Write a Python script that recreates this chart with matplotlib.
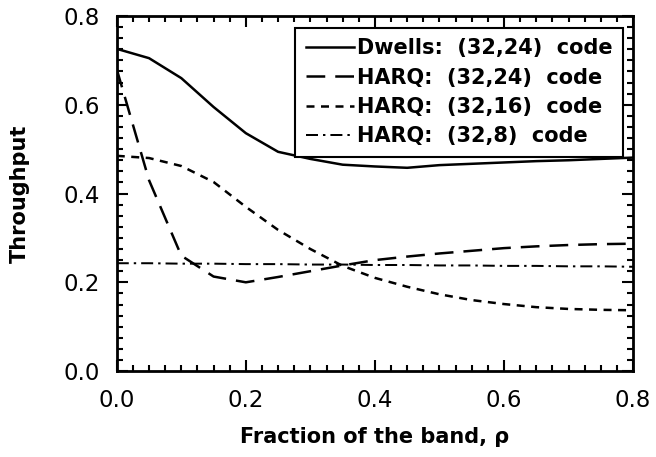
import numpy as np
import matplotlib
matplotlib.use("Agg")
import matplotlib.pyplot as plt
from matplotlib.ticker import MultipleLocator, FormatStrFormatter

plt.rcParams['font.family'] = ['DejaVu Sans']

rho = [0.0, 0.05, 0.1, 0.15, 0.2, 0.25, 0.3, 0.35, 0.4, 0.45, 0.5, 0.55, 0.6, 0.65, 0.7, 0.75, 0.8]

dwells_24 = [0.726, 0.705, 0.66, 0.595, 0.536, 0.494, 0.478, 0.465, 0.461, 0.458, 0.464, 0.467, 0.47, 0.473, 0.475, 0.478, 0.481]
harq_24 = [0.68, 0.43, 0.26, 0.213, 0.2, 0.212, 0.225, 0.238, 0.25, 0.258, 0.265, 0.271, 0.277, 0.281, 0.284, 0.286, 0.287]
harq_16 = [0.485, 0.48, 0.462, 0.426, 0.37, 0.318, 0.275, 0.237, 0.21, 0.19, 0.173, 0.16, 0.151, 0.144, 0.14, 0.138, 0.137]
harq_8 = [0.243, 0.243, 0.242, 0.242, 0.241, 0.241, 0.24, 0.24, 0.239, 0.239, 0.238, 0.238, 0.237, 0.237, 0.236, 0.236, 0.235]

labels = ["Dwells:  (32,24)  code", "HARQ:  (32,24)  code",
          "HARQ:  (32,16)  code", "HARQ:  (32,8)  code"]

fig = plt.figure(figsize=(6.56, 4.57), dpi=100)
ax = fig.add_axes([0.178, 0.188, 0.787, 0.777])

lw = 1.8
ax.plot(rho, dwells_24, color='black', lw=lw, label=labels[0])
ax.plot(rho, harq_24, color='black', lw=lw, dashes=(7.5, 4), label=labels[1])
ax.plot(rho, harq_16, color='black', lw=lw, dashes=(3.2, 2.6), label=labels[2])
ax.plot(rho, harq_8, color='black', lw=lw * 0.8, dashes=(6, 2.5, 1.2, 2.5), label=labels[3])

ax.set_xlim(0, 0.8)
ax.set_ylim(0, 0.8)
ax.xaxis.set_major_locator(MultipleLocator(0.2))
ax.xaxis.set_minor_locator(MultipleLocator(0.025))
ax.yaxis.set_major_locator(MultipleLocator(0.2))
ax.yaxis.set_minor_locator(MultipleLocator(0.025))
ax.xaxis.set_major_formatter(FormatStrFormatter('%.1f'))
ax.yaxis.set_major_formatter(FormatStrFormatter('%.1f'))

ax.tick_params(which='both', direction='in', top=True, right=True, width=1.5)
ax.tick_params(which='major', length=8, labelsize=16.5, pad=13)
ax.tick_params(which='minor', length=4)
ax.tick_params(axis='y', which='major', pad=12)
for s in ax.spines.values():
    s.set_linewidth(2)

ax.set_xlabel("Fraction of the band, ρ", fontsize=15, fontweight='bold', labelpad=11)
ax.set_ylabel("Throughput", fontsize=15, fontweight='bold', labelpad=24)

leg = ax.legend(loc='upper right', bbox_to_anchor=(0.98, 0.967),
                prop={'size': 15, 'weight': 'bold'},
                handlelength=2.3, handletextpad=0.15, borderpad=0.5,
                labelspacing=0.45, fancybox=False, framealpha=1, borderaxespad=0)
leg.get_frame().set_edgecolor('black')
leg.get_frame().set_linewidth(1.5)

fig.savefig("out.png", dpi=100)
